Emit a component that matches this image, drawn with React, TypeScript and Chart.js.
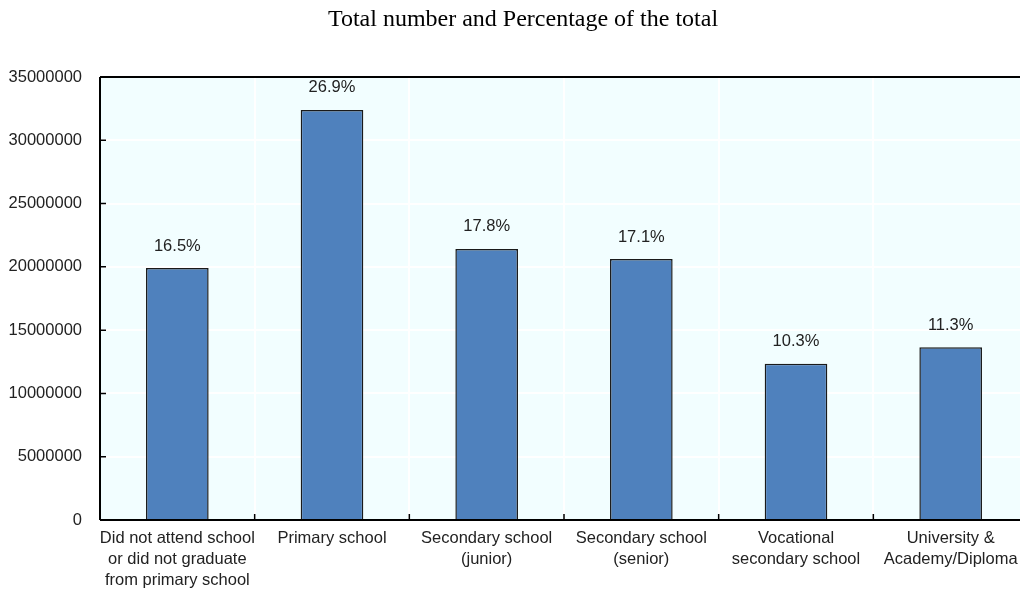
import React, { useEffect, useRef } from "react";
import { Chart, registerables } from "chart.js";

Chart.register(...registerables);

const titleText = "Total number and Percentage of the total";
const categories: string[][] = [
  ["Did not attend school", "or did not graduate", "from primary school"],
  ["Primary school"],
  ["Secondary school", "(junior)"],
  ["Secondary school", "(senior)"],
  ["Vocational", "secondary school"],
  ["University &", "Academy/Diploma"],
];
const totals = [19900000, 32400000, 21420000, 20620000, 12350000, 13650000];
const percentLabels = ["16.5%", "26.9%", "17.8%", "17.1%", "10.3%", "11.3%"];
const yTicks = [0, 5000000, 10000000, 15000000, 20000000, 25000000, 30000000, 35000000];

const SANS = "'Liberation Sans', Arial, sans-serif";

const decorPlugin = {
  id: "decor",
  beforeDraw(chart: any) {
    const { ctx, chartArea } = chart;
    ctx.save();
    ctx.fillStyle = "#F2FEFF";
    ctx.fillRect(chartArea.left, chartArea.top, chartArea.right - chartArea.left, chartArea.bottom - chartArea.top);
    ctx.restore();
  },
  afterDraw(chart: any) {
    const { ctx, chartArea, scales } = chart;
    ctx.save();
    // title
    ctx.fillStyle = "#000";
    ctx.font = "24px 'Liberation Serif', 'Times New Roman', serif";
    ctx.textAlign = "center";
    ctx.textBaseline = "middle";
    ctx.fillText(titleText, 523, 20);
    // frame lines
    ctx.strokeStyle = "#000";
    ctx.lineWidth = 2;
    ctx.beginPath();
    ctx.moveTo(chartArea.left, chartArea.top);
    ctx.lineTo(chartArea.right, chartArea.top);
    ctx.moveTo(chartArea.left, chartArea.top);
    ctx.lineTo(chartArea.left, chartArea.bottom);
    ctx.moveTo(chartArea.left, chartArea.bottom);
    ctx.lineTo(chartArea.right, chartArea.bottom);
    ctx.stroke();
    // inward ticks
    ctx.lineWidth = 1.5;
    ctx.beginPath();
    yTicks.forEach((v) => {
      const y = scales.y.getPixelForValue(v);
      ctx.moveTo(chartArea.left, y);
      ctx.lineTo(chartArea.left + 6, y);
    });
    for (let i = 1; i < categories.length; i++) {
      const x = (scales.x.getPixelForValue(i - 1) + scales.x.getPixelForValue(i)) / 2;
      ctx.moveTo(x, chartArea.bottom);
      ctx.lineTo(x, chartArea.bottom - 6);
    }
    ctx.stroke();
    // data labels
    ctx.fillStyle = "#222";
    ctx.font = `16.5px ${SANS}`;
    ctx.textAlign = "center";
    ctx.textBaseline = "middle";
    const meta = chart.getDatasetMeta(0);
    meta.data.forEach((bar: any, i: number) => {
      ctx.fillText(percentLabels[i], bar.x, bar.y - 22);
    });
    ctx.restore();
  },
};

export default function App() {
  const ref = useRef<HTMLCanvasElement>(null);
  useEffect(() => {
    document.body.style.margin = "0";
    const chart = new Chart(ref.current!, {
      type: "bar",
      data: {
        labels: categories,
        datasets: [
          {
            data: totals,
            backgroundColor: "#4F81BD",
            borderColor: "#1a1a1a",
            borderWidth: 1.5,
            barPercentage: 0.405,
            categoryPercentage: 1,
          },
        ],
      },
      options: {
        responsive: false,
        animation: false,
        layout: { padding: { top: 77, right: 0, left: 0, bottom: 0 } },
        plugins: { legend: { display: false }, tooltip: { enabled: false }, title: { display: false } },
        scales: {
          x: {
            offset: true,
            grid: { offset: true, color: "#ffffff", lineWidth: 2, drawTicks: false },
            border: { display: false },
            ticks: {
              font: { family: SANS, size: 16.5, lineHeight: 1.27 },
              color: "#222",
              padding: 8,
              maxRotation: 0,
              autoSkip: false,
            },
            afterFit: (s: any) => {
              s.height = 71;
              s.paddingLeft = 0;
              s.paddingRight = 0;
            },
          },
          y: {
            min: 0,
            max: 35000000,
            grid: { color: "#ffffff", lineWidth: 2, drawTicks: false },
            border: { display: false },
            ticks: {
              stepSize: 5000000,
              font: { family: SANS, size: 16.5 },
              color: "#222",
              padding: 18,
              callback: (v: any) => String(v),
            },
            afterFit: (s: any) => {
              s.width = 100;
            },
          },
        },
      },
      plugins: [decorPlugin],
    });
    return () => chart.destroy();
  }, []);
  return (
    <div style={{ width: 1020, height: 591, overflow: "hidden" }}>
      <canvas ref={ref} width={1028} height={591} style={{ display: "block" }} />
    </div>
  );
}
